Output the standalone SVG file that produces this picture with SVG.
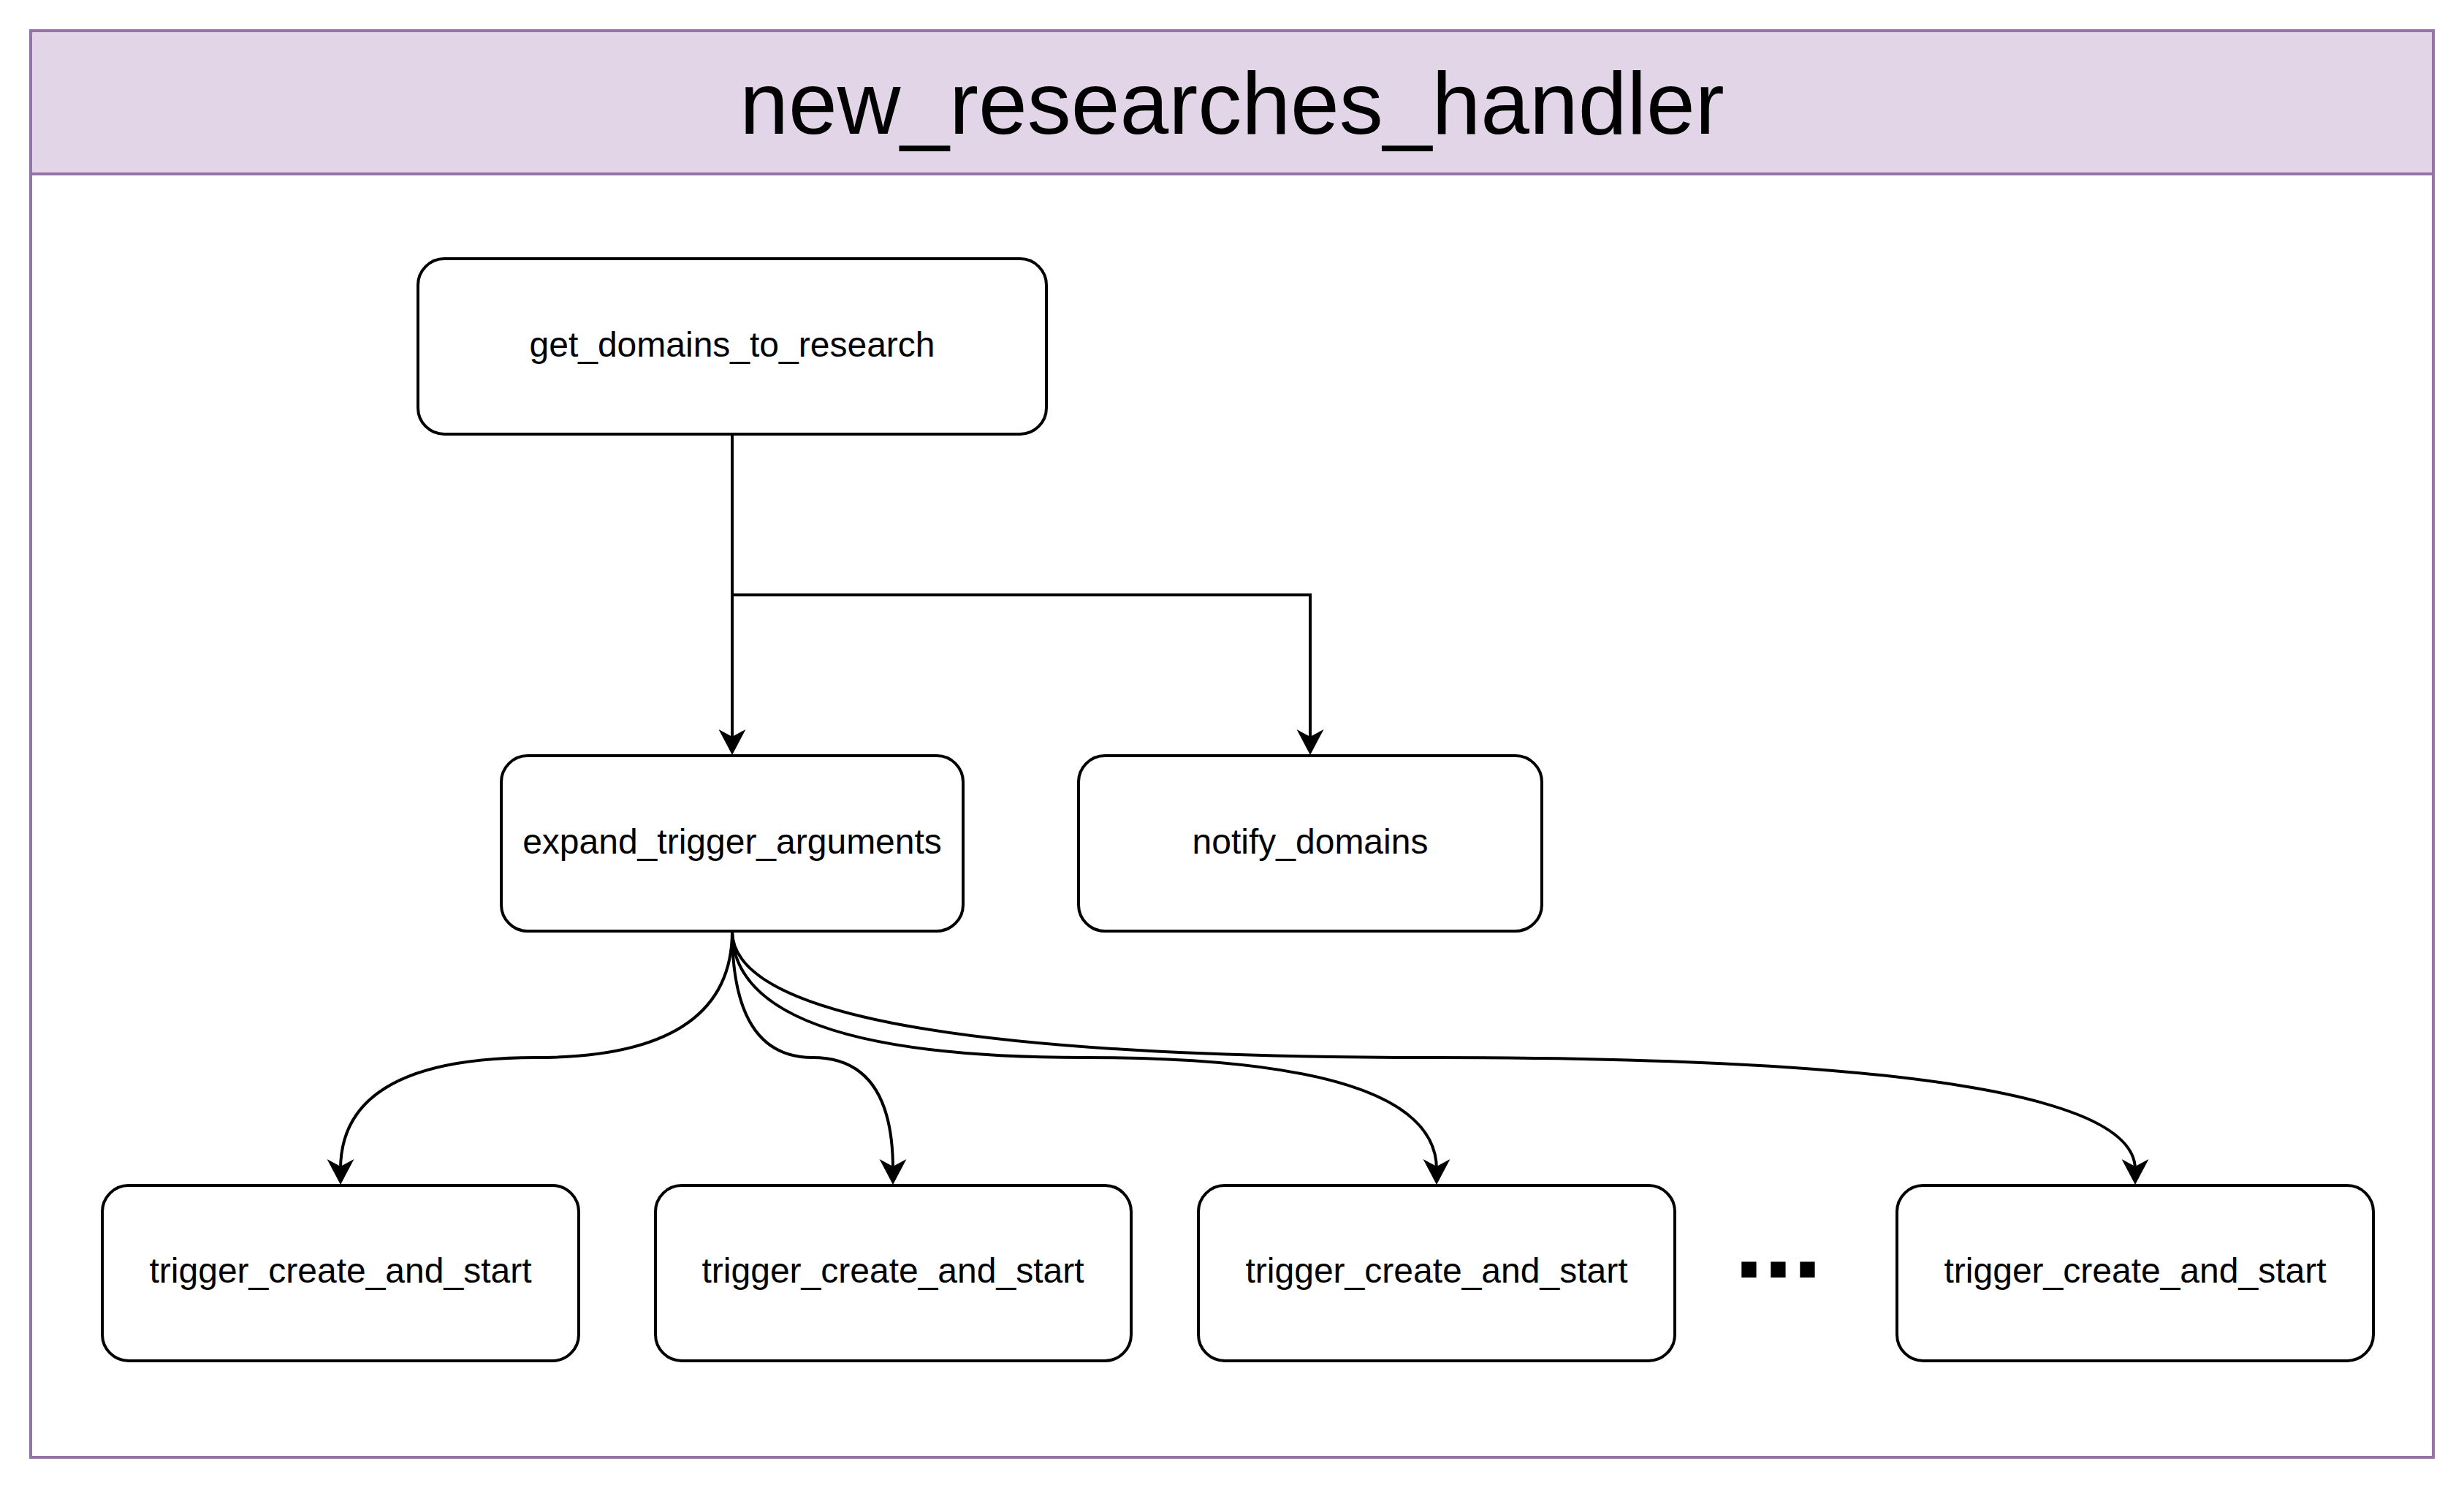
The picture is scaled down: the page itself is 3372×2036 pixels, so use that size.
<svg xmlns="http://www.w3.org/2000/svg" width="3372" height="2036" viewBox="0 0 3372 2036">
  <style>
    .node { fill: #ffffff; stroke: #000000; stroke-width: 4; }
    .label { font-family: "Liberation Sans", Arial, sans-serif; font-size: 48px; fill: #000000; text-anchor: middle; }
    .edge { fill: none; stroke: #000000; stroke-width: 4; }
    .head { fill: #000000; stroke: none; }
  </style>
  <defs>
    <path id="arrow" d="M0 0 L-18.5 -35 L0 -25 L18.5 -35 Z"/>
  </defs>
  <rect width="3372" height="2036" fill="#ffffff"/>

  <g id="container">
    <rect x="42" y="42" width="3288" height="1952" fill="#ffffff" stroke="#9673a6" stroke-width="4"/>
    <rect x="42" y="42" width="3288" height="196" fill="#e1d5e7" stroke="#9673a6" stroke-width="4"/>
    <text x="1686" y="183" font-family="'Liberation Sans', Arial, sans-serif" font-size="120" text-anchor="middle" fill="#000000">new_researches_handler</text>
  </g>

  <g id="connectors">
    <path class="edge" d="M1002 594 L1002 1012"/>
    <use href="#arrow" class="head" x="1002" y="1033"/>
    <path class="edge" d="M1002 814 L1793 814 L1793 1012"/>
    <use href="#arrow" class="head" x="1793" y="1033"/>

    <path class="edge" d="M1002 1274 Q1002 1447 734 1447 Q466 1447 466 1600"/>
    <use href="#arrow" class="head" x="466" y="1621"/>
    <path class="edge" d="M1002 1274 Q1002 1447 1112 1447 Q1222 1447 1222 1600"/>
    <use href="#arrow" class="head" x="1222" y="1621"/>
    <path class="edge" d="M1002 1274 Q1002 1447 1484 1447 Q1966 1447 1966 1600"/>
    <use href="#arrow" class="head" x="1966" y="1621"/>
    <path class="edge" d="M1002 1274 Q1002 1447 1962 1447 Q2922 1447 2922 1600"/>
    <use href="#arrow" class="head" x="2922" y="1621"/>
  </g>

  <g id="get_domains_to_research">
    <rect class="node" x="572" y="354" width="860" height="240" rx="36" ry="36"/>
    <text class="label" x="1002" y="488">get_domains_to_research</text>
  </g>

  <g id="expand_trigger_arguments">
    <rect class="node" x="686" y="1034" width="632" height="240" rx="36" ry="36"/>
    <text class="label" x="1002" y="1168">expand_trigger_arguments</text>
  </g>

  <g id="notify_domains">
    <rect class="node" x="1476" y="1034" width="634" height="240" rx="36" ry="36"/>
    <text class="label" x="1793" y="1168">notify_domains</text>
  </g>

  <g id="trigger_1">
    <rect class="node" x="140" y="1622" width="652" height="240" rx="36" ry="36"/>
    <text class="label" x="466" y="1755">trigger_create_and_start</text>
  </g>

  <g id="trigger_2">
    <rect class="node" x="897" y="1622" width="651" height="240" rx="36" ry="36"/>
    <text class="label" x="1222" y="1755">trigger_create_and_start</text>
  </g>

  <g id="trigger_3">
    <rect class="node" x="1640" y="1622" width="652" height="240" rx="36" ry="36"/>
    <text class="label" x="1966" y="1755">trigger_create_and_start</text>
  </g>

  <g id="ellipsis">
    <text x="2433.5" y="1748" font-family="'Liberation Sans', Arial, sans-serif" font-size="144" font-weight="bold" text-anchor="middle" fill="#000000">...</text>
  </g>

  <g id="trigger_4">
    <rect class="node" x="2596" y="1622" width="652" height="240" rx="36" ry="36"/>
    <text class="label" x="2922" y="1755">trigger_create_and_start</text>
  </g>
</svg>
